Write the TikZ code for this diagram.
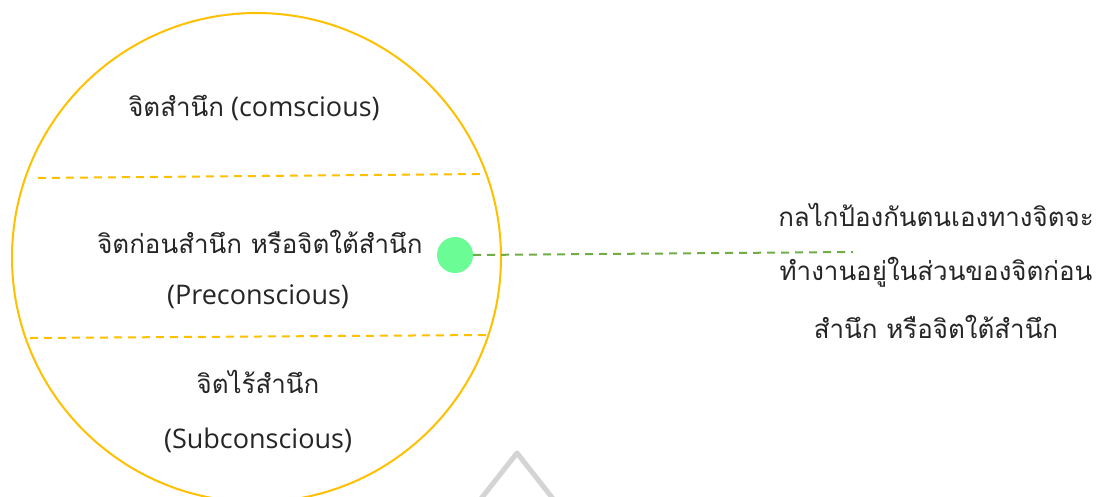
\documentclass[tikz,border=0pt]{standalone}
\usepackage{fontspec}
\setmainfont{Open Sans}
\newfontfamily\thai[Script=Thai, Scale=0.96]{Loma}
\definecolor{ring}{HTML}{FFC000}
\definecolor{dotgreen}{HTML}{6CFC96}
\definecolor{linkgreen}{HTML}{70AD47}
\definecolor{txt}{HTML}{262626}
\definecolor{markgrey}{HTML}{D4D4D4}
\tikzset{
  lbl/.style={text=txt, inner sep=0pt, font=\fontsize{27}{32}\selectfont},
  divider/.style={draw=ring, line width=2pt, dash pattern=on 8pt off 6pt},
  link/.style={draw=linkgreen, line width=2pt, dash pattern=on 8pt off 6pt},
}
\begin{document}
\begin{tikzpicture}[x=1pt,y=-1pt]
\useasboundingbox (0,0) rectangle (1100,496);
\clip (0,0) rectangle (1100,496);
\fill[white] (0,0) rectangle (1100,496);
\node[circle, draw=ring, line width=2pt, minimum size=489pt, inner sep=0pt] (mind) at (256.5,257.5) {};
\coordinate (d1a) at (38,178);
\coordinate (d1b) at (480,174);
\coordinate (d2a) at (30,338);
\coordinate (d2b) at (488,335);
\draw[divider] (d1a) -- (d1b);
\draw[divider] (d2a) -- (d2b);
\node[lbl] (c) at (254,108) {{\thai จิตสำนึก} (comscious)};
\node[lbl] (p1) at (260,242) {\thai จิตก่อนสำนึก หรือจิตใต้สำนึก};
\node[lbl] (p2) at (258,297) {(Preconscious)};
\node[lbl] (s1) at (258,382) {\thai จิตไร้สำนึก};
\node[lbl] (s2) at (258,440) {(Subconscious)};
\node[circle, fill=dotgreen, minimum size=36pt, inner sep=0pt] (dot) at (455,255) {};
\coordinate (linkend) at (853,252);
\draw[link] (dot.east) -- (linkend);
\node[lbl, align=center] (r1) at (936,215) {\thai กลไกป้องกันตนเองทางจิตจะ};
\node[lbl, align=center] (r2) at (936,272) {\thai ทำงานอยู่ในส่วนของจิตก่อน};
\node[lbl, align=center] (r3) at (936,327) {\thai สำนึก หรือจิตใต้สำนึก};
\coordinate (ta) at (480,500);
\coordinate (tb) at (517,453);
\coordinate (tc) at (554,500);
\draw[markgrey, line width=5pt, line join=round, line cap=round] (ta) -- (tb) -- (tc);
\end{tikzpicture}
\end{document}
